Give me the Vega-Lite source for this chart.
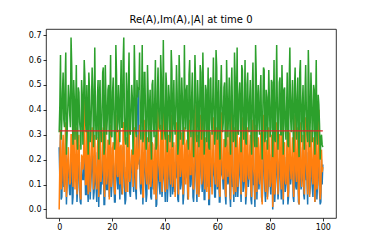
{
"$schema":"https://vega.github.io/schema/vega-lite/v6.json",
"width":290,"height":189,
"autosize":{"type":"none"},
"padding":{"left":46,"top":29,"right":38,"bottom":31},
"background":"white",
"title":{"text":"Re(A),Im(A),|A| at time 0","font":"DejaVu Sans","fontSize":10,"fontWeight":"normal","color":"#000","offset":4},
"config":{"view":{"stroke":"#000","strokeWidth":0.8},"axis":{"grid":false,"domain":false,"tickColor":"#000","tickSize":3,"tickWidth":0.8,"labelColor":"#000","labelFont":"DejaVu Sans","labelFontSize":8,"labelPadding":2,"labelOverlap":false,"title":null}},
"data":{"values":[
{"t":0,"b":0.25,"o":0.0,"g":0.31},{"t":0.5,"b":0.3,"o":0.32,"g":0.62},{"t":1,"b":0.05,"o":0.12,"g":0.35},{"t":1.5,"b":0.2,"o":0.3,"g":0.55},{"t":2,"b":0.1,"o":0.07,"g":0.33},{"t":2.5,"b":0.28,"o":0.35,"g":0.63},{"t":3,"b":0.12,"o":0.09,"g":0.3},{"t":3.5,"b":0.18,"o":0.25,"g":0.5},{"t":4,"b":0.06,"o":0.1,"g":0.38},{"t":4.5,"b":0.22,"o":0.3,"g":0.69},
{"t":5,"b":0.02,"o":0.15,"g":0.36},{"t":5.5,"b":0.25,"o":0.38,"g":0.52},{"t":6,"b":0.14,"o":0.08,"g":0.28},{"t":6.5,"b":0.2,"o":0.33,"g":0.58},{"t":7,"b":0.09,"o":0.12,"g":0.24},{"t":7.5,"b":0.26,"o":0.3,"g":0.47},{"t":8,"b":0.03,"o":0.05,"g":0.32},{"t":8.5,"b":0.19,"o":0.22,"g":0.52},{"t":9,"b":0.12,"o":0.16,"g":0.26},{"t":9.5,"b":0.24,"o":0.44,"g":0.6},
{"t":10,"b":0.06,"o":0.1,"g":0.35},{"t":10.5,"b":0.3,"o":0.35,"g":0.5},{"t":11,"b":0.03,"o":0.06,"g":0.22},{"t":11.5,"b":0.21,"o":0.28,"g":0.48},{"t":12,"b":0.1,"o":0.14,"g":0.3},{"t":12.5,"b":0.27,"o":0.33,"g":0.57},{"t":13,"b":0.04,"o":0.08,"g":0.25},{"t":13.5,"b":0.18,"o":0.3,"g":0.65},{"t":14,"b":0.09,"o":0.12,"g":0.28},{"t":14.5,"b":0.23,"o":0.25,"g":0.45},
{"t":15,"b":0.01,"o":0.05,"g":0.2},{"t":15.5,"b":0.2,"o":0.36,"g":0.52},{"t":16,"b":0.11,"o":0.13,"g":0.27},{"t":16.5,"b":0.26,"o":0.3,"g":0.55},{"t":17,"b":0.02,"o":0.09,"g":0.22},{"t":17.5,"b":0.15,"o":0.42,"g":0.58},{"t":18,"b":0.08,"o":0.1,"g":0.3},{"t":18.5,"b":0.22,"o":0.28,"g":0.48},{"t":19,"b":0.05,"o":0.04,"g":0.26},{"t":19.5,"b":0.25,"o":0.34,"g":0.62},
{"t":20,"b":0.1,"o":0.12,"g":0.29},{"t":20.5,"b":0.19,"o":0.27,"g":0.53},{"t":21,"b":0.03,"o":0.07,"g":0.24},{"t":21.5,"b":0.23,"o":0.38,"g":0.66},{"t":22,"b":0.12,"o":0.14,"g":0.31},{"t":22.5,"b":0.28,"o":0.32,"g":0.5},{"t":23,"b":0.04,"o":0.1,"g":0.27},{"t":23.5,"b":0.2,"o":0.26,"g":0.6},{"t":24,"b":0.09,"o":0.06,"g":0.33},{"t":24.5,"b":0.25,"o":0.35,"g":0.69},
{"t":25,"b":0.02,"o":0.11,"g":0.28},{"t":25.5,"b":0.17,"o":0.29,"g":0.55},{"t":26,"b":0.11,"o":0.07,"g":0.25},{"t":26.5,"b":0.29,"o":0.37,"g":0.63},{"t":27,"b":0.05,"o":0.13,"g":0.3},{"t":27.5,"b":0.22,"o":0.24,"g":0.5},{"t":28,"b":0.14,"o":0.09,"g":0.22},{"t":28.5,"b":0.26,"o":0.33,"g":0.66},{"t":29,"b":0.08,"o":0.15,"g":0.32},{"t":29.5,"b":0.38,"o":0.3,"g":0.52},
{"t":30,"b":0.48,"o":0.2,"g":0.49},{"t":30.5,"b":0.2,"o":0.34,"g":0.63},{"t":31,"b":0.06,"o":0.1,"g":0.28},{"t":31.5,"b":0.24,"o":0.31,"g":0.66},{"t":32,"b":0.12,"o":0.05,"g":0.3},{"t":32.5,"b":0.19,"o":0.36,"g":0.55},{"t":33,"b":0.03,"o":0.12,"g":0.24},{"t":33.5,"b":0.27,"o":0.29,"g":0.58},{"t":34,"b":0.1,"o":0.08,"g":0.27},{"t":34.5,"b":0.22,"o":0.33,"g":0.48},
{"t":35,"b":0.04,"o":0.13,"g":0.2},{"t":35.5,"b":0.18,"o":0.26,"g":0.52},{"t":36,"b":0.13,"o":0.06,"g":0.29},{"t":36.5,"b":0.25,"o":0.3,"g":0.6},{"t":37,"b":0.02,"o":0.1,"g":0.26},{"t":37.5,"b":0.21,"o":0.4,"g":0.57},{"t":38,"b":0.09,"o":0.15,"g":0.33},{"t":38.5,"b":0.26,"o":0.34,"g":0.62},{"t":39,"b":0.05,"o":0.07,"g":0.28},{"t":39.5,"b":0.23,"o":0.44,"g":0.68},
{"t":40,"b":0.11,"o":0.12,"g":0.31},{"t":40.5,"b":0.28,"o":0.36,"g":0.55},{"t":41,"b":0.03,"o":0.08,"g":0.23},{"t":41.5,"b":0.2,"o":0.3,"g":0.5},{"t":42,"b":0.1,"o":0.14,"g":0.27},{"t":42.5,"b":0.24,"o":0.38,"g":0.64},{"t":43,"b":0.06,"o":0.09,"g":0.25},{"t":43.5,"b":0.19,"o":0.27,"g":0.52},{"t":44,"b":0.12,"o":0.05,"g":0.3},{"t":44.5,"b":0.26,"o":0.35,"g":0.58},
{"t":45,"b":0.04,"o":0.11,"g":0.22},{"t":45.5,"b":0.22,"o":0.4,"g":0.62},{"t":46,"b":0.08,"o":0.13,"g":0.28},{"t":46.5,"b":0.27,"o":0.31,"g":0.53},{"t":47,"b":0.02,"o":0.06,"g":0.26},{"t":47.5,"b":0.18,"o":0.33,"g":0.66},{"t":48,"b":0.13,"o":0.1,"g":0.32},{"t":48.5,"b":0.24,"o":0.28,"g":0.5},{"t":49,"b":0.05,"o":0.04,"g":0.24},{"t":49.5,"b":0.21,"o":0.36,"g":0.6},
{"t":50,"b":0.1,"o":0.14,"g":0.29},{"t":50.5,"b":0.29,"o":0.32,"g":0.55},{"t":51,"b":0.03,"o":0.08,"g":0.21},{"t":51.5,"b":0.23,"o":0.42,"g":0.62},{"t":52,"b":0.11,"o":0.12,"g":0.3},{"t":52.5,"b":0.26,"o":0.3,"g":0.52},{"t":53,"b":0.06,"o":0.05,"g":0.25},{"t":53.5,"b":0.2,"o":0.38,"g":0.58},{"t":54,"b":0.14,"o":0.1,"g":0.28},{"t":54.5,"b":0.25,"o":0.45,"g":0.63},
{"t":55,"b":0.04,"o":0.13,"g":0.22},{"t":55.5,"b":0.22,"o":0.29,"g":0.5},{"t":56,"b":0.09,"o":0.07,"g":0.27},{"t":56.5,"b":0.27,"o":0.35,"g":0.57},{"t":57,"b":0.02,"o":0.11,"g":0.24},{"t":57.5,"b":0.19,"o":0.31,"g":0.53},{"t":58,"b":0.12,"o":0.06,"g":0.3},{"t":58.5,"b":0.24,"o":0.37,"g":0.61},{"t":59,"b":0.05,"o":0.14,"g":0.26},{"t":59.5,"b":0.26,"o":0.3,"g":0.64},
{"t":60,"b":0.08,"o":0.09,"g":0.28},{"t":60.5,"b":0.21,"o":0.34,"g":0.52},{"t":61,"b":0.03,"o":0.05,"g":0.2},{"t":61.5,"b":0.25,"o":0.39,"g":0.58},{"t":62,"b":0.13,"o":0.12,"g":0.31},{"t":62.5,"b":0.2,"o":0.28,"g":0.49},{"t":63,"b":0.06,"o":0.08,"g":0.25},{"t":63.5,"b":0.28,"o":0.36,"g":0.6},{"t":64,"b":0.1,"o":0.13,"g":0.29},{"t":64.5,"b":0.23,"o":0.31,"g":0.53},
{"t":65,"b":0.01,"o":0.04,"g":0.22},{"t":65.5,"b":0.22,"o":0.4,"g":0.57},{"t":66,"b":0.11,"o":0.1,"g":0.27},{"t":66.5,"b":0.27,"o":0.33,"g":0.63},{"t":67,"b":0.05,"o":0.07,"g":0.25},{"t":67.5,"b":0.24,"o":0.35,"g":0.65},{"t":68,"b":0.12,"o":0.14,"g":0.3},{"t":68.5,"b":0.19,"o":0.29,"g":0.51},{"t":69,"b":0.03,"o":0.06,"g":0.23},{"t":69.5,"b":0.25,"o":0.37,"g":0.56},
{"t":70,"b":0.09,"o":0.11,"g":0.28},{"t":70.5,"b":0.3,"o":0.42,"g":0.6},{"t":71,"b":0.06,"o":0.08,"g":0.26},{"t":71.5,"b":0.22,"o":0.33,"g":0.55},{"t":72,"b":0.13,"o":0.12,"g":0.31},{"t":72.5,"b":0.26,"o":0.3,"g":0.52},{"t":73,"b":0.02,"o":0.05,"g":0.22},{"t":73.5,"b":0.2,"o":0.36,"g":0.59},{"t":74,"b":0.1,"o":0.13,"g":0.28},{"t":74.5,"b":0.27,"o":0.34,"g":0.66},
{"t":75,"b":0.04,"o":0.07,"g":0.25},{"t":75.5,"b":0.23,"o":0.29,"g":0.5},{"t":76,"b":0.12,"o":0.1,"g":0.3},{"t":76.5,"b":0.18,"o":0.31,"g":0.54},{"t":77,"b":0.03,"o":0.02,"g":0.2},{"t":77.5,"b":0.25,"o":0.38,"g":0.57},{"t":78,"b":0.08,"o":0.12,"g":0.27},{"t":78.5,"b":0.21,"o":0.28,"g":0.48},{"t":79,"b":0.05,"o":0.04,"g":0.24},{"t":79.5,"b":0.26,"o":0.33,"g":0.56},
{"t":80,"b":0.11,"o":0.09,"g":0.29},{"t":80.5,"b":0.22,"o":0.3,"g":0.52},{"t":81,"b":0.0,"o":0.01,"g":0.21},{"t":81.5,"b":0.24,"o":0.42,"g":0.6},{"t":82,"b":0.09,"o":0.11,"g":0.27},{"t":82.5,"b":0.28,"o":0.35,"g":0.66},{"t":83,"b":0.04,"o":0.06,"g":0.24},{"t":83.5,"b":0.19,"o":0.3,"g":0.51},{"t":84,"b":0.12,"o":0.13,"g":0.3},{"t":84.5,"b":0.25,"o":0.36,"g":0.58},
{"t":85,"b":0.02,"o":0.04,"g":0.22},{"t":85.5,"b":0.21,"o":0.27,"g":0.49},{"t":86,"b":0.1,"o":0.1,"g":0.28},{"t":86.5,"b":0.26,"o":0.34,"g":0.55},{"t":87,"b":0.05,"o":0.07,"g":0.25},{"t":87.5,"b":0.23,"o":0.31,"g":0.65},{"t":88,"b":0.13,"o":0.12,"g":0.31},{"t":88.5,"b":0.2,"o":0.29,"g":0.52},{"t":89,"b":0.03,"o":0.05,"g":0.23},{"t":89.5,"b":0.27,"o":0.38,"g":0.57},
{"t":90,"b":0.08,"o":0.11,"g":0.28},{"t":90.5,"b":0.22,"o":0.33,"g":0.53},{"t":91,"b":0.02,"o":0.02,"g":0.21},{"t":91.5,"b":0.25,"o":0.35,"g":0.6},{"t":92,"b":0.11,"o":0.09,"g":0.27},{"t":92.5,"b":0.19,"o":0.3,"g":0.5},{"t":93,"b":0.04,"o":0.06,"g":0.24},{"t":93.5,"b":0.26,"o":0.37,"g":0.58},{"t":94,"b":0.12,"o":0.12,"g":0.3},{"t":94.5,"b":0.23,"o":0.4,"g":0.64},
{"t":95,"b":0.06,"o":0.05,"g":0.25},{"t":95.5,"b":0.28,"o":0.32,"g":0.55},{"t":96,"b":0.09,"o":0.13,"g":0.27},{"t":96.5,"b":0.21,"o":0.29,"g":0.5},{"t":97,"b":0.03,"o":0.03,"g":0.22},{"t":97.5,"b":0.24,"o":0.34,"g":0.6},{"t":98,"b":0.1,"o":0.1,"g":0.26},{"t":98.5,"b":0.26,"o":0.4,"g":0.42},{"t":99,"b":0.02,"o":0.04,"g":0.2},{"t":99.5,"b":0.2,"o":0.24,"g":0.3},
{"t":100,"b":0.18,"o":0.17,"g":0.25},
{"t":0.25,"b":0.12,"o":0.18,"g":0.42},{"t":0.75,"b":0.04,"o":0.08,"g":0.28},{"t":1.25,"b":0.16,"o":0.24,"g":0.47},{"t":1.75,"b":0.09,"o":0.14,"g":0.36},{"t":2.25,"b":0.2,"o":0.28,"g":0.51},{"t":2.75,"b":0.02,"o":0.05,"g":0.22},{"t":3.25,"b":0.14,"o":0.2,"g":0.4},{"t":3.75,"b":0.1,"o":0.16,"g":0.45},{"t":4.25,"b":0.06,"o":0.11,"g":0.33},{"t":4.75,"b":0.22,"o":0.3,"g":0.58},
{"t":5.25,"b":0.05,"o":0.09,"g":0.26},{"t":5.75,"b":0.15,"o":0.22,"g":0.44},{"t":6.25,"b":0.11,"o":0.17,"g":0.39},{"t":6.75,"b":0.03,"o":0.06,"g":0.3},{"t":7.25,"b":0.18,"o":0.26,"g":0.49},{"t":7.75,"b":0.08,"o":0.13,"g":0.35},{"t":8.25,"b":0.02,"o":0.04,"g":0.24},{"t":8.75,"b":0.13,"o":0.21,"g":0.46},{"t":9.25,"b":0.12,"o":0.19,"g":0.41},{"t":9.75,"b":0.19,"o":0.27,"g":0.53},
{"t":10.25,"b":0.06,"o":0.1,"g":0.31},{"t":10.75,"b":0.09,"o":0.15,"g":0.37},{"t":11.25,"b":0.23,"o":0.31,"g":0.55},{"t":11.75,"b":0.04,"o":0.07,"g":0.27},{"t":12.25,"b":0.16,"o":0.23,"g":0.43},{"t":12.75,"b":0.17,"o":0.25,"g":0.48},{"t":13.25,"b":0.07,"o":0.12,"g":0.34},{"t":13.75,"b":0.12,"o":0.18,"g":0.4},{"t":14.25,"b":0.03,"o":0.08,"g":0.29},{"t":14.75,"b":0.21,"o":0.29,"g":0.52},
{"t":15.25,"b":0.14,"o":0.2,"g":0.45},{"t":15.75,"b":0.06,"o":0.11,"g":0.32},{"t":16.25,"b":0.1,"o":0.16,"g":0.38},{"t":16.75,"b":0.24,"o":0.33,"g":0.57},{"t":17.25,"b":0.02,"o":0.05,"g":0.25},{"t":17.75,"b":0.15,"o":0.22,"g":0.44},{"t":18.25,"b":0.08,"o":0.14,"g":0.36},{"t":18.75,"b":0.19,"o":0.27,"g":0.5},{"t":19.25,"b":0.13,"o":0.19,"g":0.42},{"t":19.75,"b":0.05,"o":0.09,"g":0.3},
{"t":20.25,"b":0.17,"o":0.24,"g":0.47},{"t":20.75,"b":0.11,"o":0.17,"g":0.39},{"t":21.25,"b":0.03,"o":0.06,"g":0.28},{"t":21.75,"b":0.22,"o":0.3,"g":0.54},{"t":22.25,"b":0.08,"o":0.13,"g":0.35},{"t":22.75,"b":0.14,"o":0.21,"g":0.41},{"t":23.25,"b":0.18,"o":0.25,"g":0.46},{"t":23.75,"b":0.06,"o":0.1,"g":0.33},{"t":24.25,"b":0.25,"o":0.34,"g":0.59},{"t":24.75,"b":0.09,"o":0.15,"g":0.37},
{"t":25.25,"b":0.04,"o":0.07,"g":0.26},{"t":25.75,"b":0.13,"o":0.2,"g":0.43},{"t":26.25,"b":0.19,"o":0.26,"g":0.49},{"t":26.75,"b":0.07,"o":0.11,"g":0.31},{"t":27.25,"b":0.12,"o":0.18,"g":0.4},{"t":27.75,"b":0.16,"o":0.23,"g":0.45},{"t":28.25,"b":0.07,"o":0.12,"g":0.34},{"t":28.75,"b":0.2,"o":0.28,"g":0.52},{"t":29.25,"b":0.04,"o":0.08,"g":0.29},{"t":29.75,"b":0.4,"o":0.16,"g":0.45},
{"t":30.25,"b":0.18,"o":0.25,"g":0.48},{"t":30.75,"b":0.09,"o":0.14,"g":0.36},{"t":31.25,"b":0.13,"o":0.19,"g":0.42},{"t":31.75,"b":0.02,"o":0.05,"g":0.27},{"t":32.25,"b":0.23,"o":0.31,"g":0.55},{"t":32.75,"b":0.11,"o":0.17,"g":0.39},{"t":33.25,"b":0.06,"o":0.1,"g":0.33},{"t":33.75,"b":0.17,"o":0.24,"g":0.46},{"t":34.25,"b":0.14,"o":0.2,"g":0.41},{"t":34.75,"b":0.05,"o":0.09,"g":0.3},
{"t":35.25,"b":0.2,"o":0.27,"g":0.5},{"t":35.75,"b":0.08,"o":0.13,"g":0.35},{"t":36.25,"b":0.15,"o":0.22,"g":0.44},{"t":36.75,"b":0.01,"o":0.04,"g":0.24},{"t":37.25,"b":0.19,"o":0.26,"g":0.47},{"t":37.75,"b":0.12,"o":0.18,"g":0.4},{"t":38.25,"b":0.06,"o":0.11,"g":0.32},{"t":38.75,"b":0.21,"o":0.29,"g":0.53},{"t":39.25,"b":0.1,"o":0.15,"g":0.37},{"t":39.75,"b":0.14,"o":0.21,"g":0.43},
{"t":40.25,"b":0.03,"o":0.07,"g":0.28},{"t":40.75,"b":0.18,"o":0.25,"g":0.49},{"t":41.25,"b":0.09,"o":0.14,"g":0.36},{"t":41.75,"b":0.16,"o":0.23,"g":0.45},{"t":42.25,"b":0.05,"o":0.1,"g":0.31},{"t":42.75,"b":0.24,"o":0.32,"g":0.56},{"t":43.25,"b":0.11,"o":0.17,"g":0.39},{"t":43.75,"b":0.07,"o":0.12,"g":0.34},{"t":44.25,"b":0.13,"o":0.19,"g":0.42},{"t":44.75,"b":0.17,"o":0.24,"g":0.47},
{"t":45.25,"b":0.03,"o":0.06,"g":0.26},{"t":45.75,"b":0.2,"o":0.28,"g":0.51},{"t":46.25,"b":0.1,"o":0.16,"g":0.38},{"t":46.75,"b":0.15,"o":0.22,"g":0.44},{"t":47.25,"b":0.06,"o":0.11,"g":0.33},{"t":47.75,"b":0.12,"o":0.18,"g":0.4},{"t":48.25,"b":0.19,"o":0.26,"g":0.48},{"t":48.75,"b":0.04,"o":0.08,"g":0.29},{"t":49.25,"b":0.22,"o":0.3,"g":0.54},{"t":49.75,"b":0.09,"o":0.14,"g":0.36},
{"t":50.25,"b":0.16,"o":0.23,"g":0.45},{"t":50.75,"b":0.05,"o":0.09,"g":0.31},{"t":51.25,"b":0.13,"o":0.19,"g":0.41},{"t":51.75,"b":0.2,"o":0.27,"g":0.5},{"t":52.25,"b":0.03,"o":0.06,"g":0.27},{"t":52.75,"b":0.14,"o":0.21,"g":0.43},{"t":53.25,"b":0.09,"o":0.15,"g":0.37},{"t":53.75,"b":0.23,"o":0.31,"g":0.55},{"t":54.25,"b":0.07,"o":0.12,"g":0.34},{"t":54.75,"b":0.17,"o":0.24,"g":0.46},
{"t":55.25,"b":0.04,"o":0.08,"g":0.3},{"t":55.75,"b":0.19,"o":0.26,"g":0.48},{"t":56.25,"b":0.11,"o":0.17,"g":0.39},{"t":56.75,"b":0.02,"o":0.04,"g":0.25},{"t":57.25,"b":0.21,"o":0.29,"g":0.52},{"t":57.75,"b":0.09,"o":0.14,"g":0.36},{"t":58.25,"b":0.15,"o":0.22,"g":0.44},{"t":58.75,"b":0.13,"o":0.19,"g":0.41},{"t":59.25,"b":0.05,"o":0.1,"g":0.32},{"t":59.75,"b":0.25,"o":0.33,"g":0.57},
{"t":60.25,"b":0.1,"o":0.16,"g":0.38},{"t":60.75,"b":0.03,"o":0.07,"g":0.29},{"t":61.25,"b":0.18,"o":0.25,"g":0.47},{"t":61.75,"b":0.14,"o":0.2,"g":0.42},{"t":62.25,"b":0.08,"o":0.13,"g":0.35},{"t":62.75,"b":0.2,"o":0.28,"g":0.51},{"t":63.25,"b":0.02,"o":0.05,"g":0.26},{"t":63.75,"b":0.16,"o":0.23,"g":0.45},{"t":64.25,"b":0.12,"o":0.18,"g":0.4},{"t":64.75,"b":0.06,"o":0.11,"g":0.33},
{"t":65.25,"b":0.19,"o":0.27,"g":0.49},{"t":65.75,"b":0.09,"o":0.15,"g":0.37},{"t":66.25,"b":0.03,"o":0.06,"g":0.28},{"t":66.75,"b":0.22,"o":0.3,"g":0.53},{"t":67.25,"b":0.14,"o":0.21,"g":0.43},{"t":67.75,"b":0.05,"o":0.09,"g":0.31},{"t":68.25,"b":0.17,"o":0.24,"g":0.46},{"t":68.75,"b":0.11,"o":0.17,"g":0.39},{"t":69.25,"b":0.24,"o":0.34,"g":0.58},{"t":69.75,"b":0.07,"o":0.12,"g":0.34},
{"t":70.25,"b":0.13,"o":0.19,"g":0.41},{"t":70.75,"b":0.02,"o":0.05,"g":0.27},{"t":71.25,"b":0.2,"o":0.28,"g":0.5},{"t":71.75,"b":0.09,"o":0.14,"g":0.36},{"t":72.25,"b":0.15,"o":0.22,"g":0.44},{"t":72.75,"b":0.04,"o":0.08,"g":0.3},{"t":73.25,"b":0.19,"o":0.26,"g":0.48},{"t":73.75,"b":0.1,"o":0.16,"g":0.38},{"t":74.25,"b":0.01,"o":0.04,"g":0.25},{"t":74.75,"b":0.23,"o":0.31,"g":0.54},
{"t":75.25,"b":0.14,"o":0.2,"g":0.42},{"t":75.75,"b":0.08,"o":0.13,"g":0.35},{"t":76.25,"b":0.18,"o":0.25,"g":0.47},{"t":76.75,"b":0.05,"o":0.1,"g":0.32},{"t":77.25,"b":0.12,"o":0.18,"g":0.4},{"t":77.75,"b":0.24,"o":0.32,"g":0.56},{"t":78.25,"b":0.03,"o":0.07,"g":0.29},{"t":78.75,"b":0.16,"o":0.23,"g":0.45},{"t":79.25,"b":0.09,"o":0.15,"g":0.37},{"t":79.75,"b":0.14,"o":0.21,"g":0.43},
{"t":80.25,"b":0.06,"o":0.11,"g":0.33},{"t":80.75,"b":0.21,"o":0.29,"g":0.51},{"t":81.25,"b":0.11,"o":0.17,"g":0.39},{"t":81.75,"b":0.03,"o":0.06,"g":0.28},{"t":82.25,"b":0.17,"o":0.24,"g":0.46},{"t":82.75,"b":0.13,"o":0.19,"g":0.41},{"t":83.25,"b":0.08,"o":0.14,"g":0.36},{"t":83.75,"b":0.22,"o":0.3,"g":0.53},{"t":84.25,"b":0.04,"o":0.08,"g":0.3},{"t":84.75,"b":0.15,"o":0.22,"g":0.44},
{"t":85.25,"b":0.19,"o":0.26,"g":0.48},{"t":85.75,"b":0.07,"o":0.12,"g":0.34},{"t":86.25,"b":0.12,"o":0.18,"g":0.4},{"t":86.75,"b":0.02,"o":0.05,"g":0.26},{"t":87.25,"b":0.2,"o":0.28,"g":0.52},{"t":87.75,"b":0.1,"o":0.16,"g":0.38},{"t":88.25,"b":0.14,"o":0.21,"g":0.43},{"t":88.75,"b":0.05,"o":0.09,"g":0.31},{"t":89.25,"b":0.19,"o":0.27,"g":0.49},{"t":89.75,"b":0.09,"o":0.15,"g":0.37},
{"t":90.25,"b":0.16,"o":0.23,"g":0.45},{"t":90.75,"b":0.03,"o":0.07,"g":0.29},{"t":91.25,"b":0.23,"o":0.31,"g":0.55},{"t":91.75,"b":0.08,"o":0.13,"g":0.35},{"t":92.25,"b":0.13,"o":0.2,"g":0.42},{"t":92.75,"b":0.06,"o":0.11,"g":0.33},{"t":93.25,"b":0.18,"o":0.25,"g":0.47},{"t":93.75,"b":0.12,"o":0.18,"g":0.4},{"t":94.25,"b":0.02,"o":0.06,"g":0.27},{"t":94.75,"b":0.2,"o":0.28,"g":0.5},
{"t":95.25,"b":0.09,"o":0.14,"g":0.36},{"t":95.75,"b":0.15,"o":0.22,"g":0.44},{"t":96.25,"b":0.05,"o":0.1,"g":0.32},{"t":96.75,"b":0.19,"o":0.26,"g":0.48},{"t":97.25,"b":0.11,"o":0.17,"g":0.39},{"t":97.75,"b":0.04,"o":0.08,"g":0.3},{"t":98.25,"b":0.17,"o":0.24,"g":0.46},{"t":98.75,"b":0.07,"o":0.12,"g":0.34},{"t":99.25,"b":0.03,"o":0.07,"g":0.28},{"t":99.75,"b":0.1,"o":0.15,"g":0.26}
]},
"encoding":{
"x":{"field":"t","type":"quantitative","scale":{"domain":[-5,105],"nice":false,"zero":false},"axis":{"values":[0,20,40,60,80,100],"format":"d"}}
},
"layer":[
{"mark":{"type":"line","color":"#1f77b4","strokeWidth":1.5,"clip":true},"encoding":{"y":{"field":"b","type":"quantitative","scale":{"domain":[-0.0345,0.7245],"nice":false,"zero":false},"axis":{"values":[0,0.1,0.2,0.3,0.4,0.5,0.6,0.7],"format":".1f"}}}},
{"mark":{"type":"line","color":"#ff7f0e","strokeWidth":1.5,"clip":true},"encoding":{"y":{"field":"o","type":"quantitative","scale":{"domain":[-0.0345,0.7245],"nice":false,"zero":false},"axis":{"values":[0,0.1,0.2,0.3,0.4,0.5,0.6,0.7],"format":".1f"}}}},
{"mark":{"type":"line","color":"#2ca02c","strokeWidth":1.5,"clip":true},"encoding":{"y":{"field":"g","type":"quantitative","scale":{"domain":[-0.0345,0.7245],"nice":false,"zero":false},"axis":{"values":[0,0.1,0.2,0.3,0.4,0.5,0.6,0.7],"format":".1f"}}}},
{"data":{"values":[{"t":0,"v":0.315},{"t":100,"v":0.315}]},"mark":{"type":"line","color":"#d62728","strokeWidth":1.3},"encoding":{"y":{"field":"v","type":"quantitative","scale":{"domain":[-0.0345,0.7245],"nice":false,"zero":false},"axis":{"values":[0,0.1,0.2,0.3,0.4,0.5,0.6,0.7],"format":".1f"}}}}
]
}
